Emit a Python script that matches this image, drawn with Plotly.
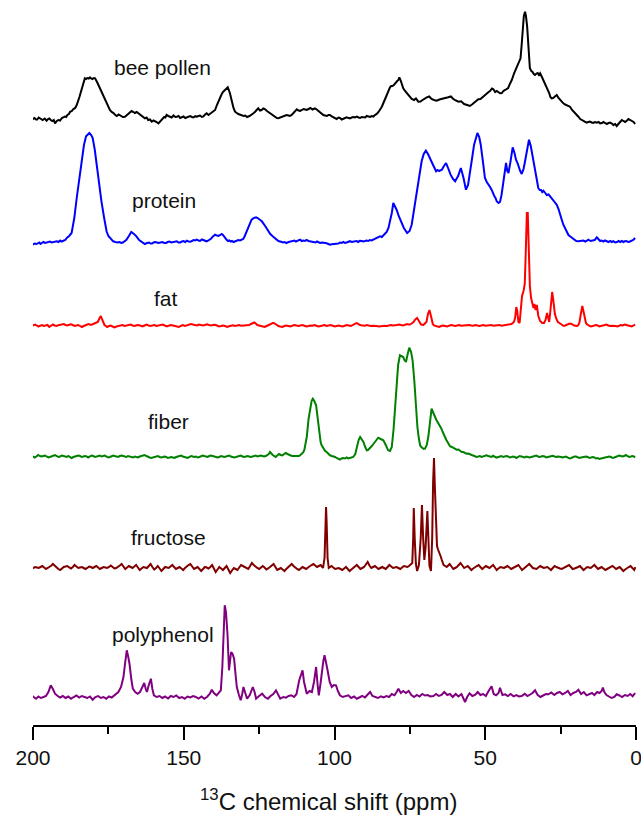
import plotly.graph_objects as go

# ---------------- data (ppm, intensity above own baseline) ----------------
bee_pollen = [(200.5,-1),(200,0.5),(199.5,1),(199,-0.5),(198.6,-0.5),(198.1,1.5),(197.7,0.7),(197.2,-0.5),(196.8,-1),(196.1,0.5),(195.5,-1.7),(195,0),(194.6,0.5),(194.1,-1),(193.6,-2),(193.1,-1),(192.7,-4.3),(192.1,-2),(191.6,-1),(191,-1.5),(190.5,0.7),(190,1.5),(189.5,2.5),(189,2),(188.6,4),(188.1,5),(187.7,7.3),(187.1,8),(186.6,10),(186,11),(185.5,14),(184.6,22),(183.8,30.7),(182.8,40.7),(182.4,40),(182,41),(181.5,40.5),(181.1,41.7),(180.7,40.5),(180.3,40),(179.8,41),(179.4,40.7),(178.6,36),(177.8,30.7),(176.9,25),(176.1,19),(175.3,14),(174.5,9),(173.9,7),(173.3,6),(172.7,4),(172.2,3),(171.6,4.5),(171,3.5),(170.2,2),(169.5,2.3),(168.9,4),(168.4,5),(167.8,7.5),(167.3,8),(166.7,7),(166.2,6),(165.6,7),(165.1,5.7),(164.5,4.5),(164,3),(163.4,2),(162.9,0.7),(162.3,1.5),(161.8,-1),(161.2,-0.5),(160.6,-2.7),(160,-1.5),(159.5,-2),(159,-3),(158.4,-4.3),(157.8,-2.5),(157.3,-1),(156.9,0.5),(156.5,2),(156.1,1.5),(155.7,4),(155.1,3),(154.5,2.5),(154,1.5),(153.4,3.5),(152.8,2),(152.3,2.3),(151.7,3),(151.2,1),(150.6,1.8),(150.1,2.5),(149.5,1),(149,1.7),(148.4,2.5),(147.9,3),(147.3,2),(146.8,1.5),(146.2,2.8),(145.7,2.3),(145.1,3),(144.6,3.5),(144,2),(143.5,2.5),(142.9,4.5),(142.4,5.7),(141.8,4),(141.3,5),(140.7,6),(140.2,7.3),(139.6,9),(139,14),(138.5,18),(138,22.3),(137.4,25),(136.9,27.3),(136.2,29),(135.4,31.7),(134.7,26),(134.1,17.3),(133.5,11),(133,7.3),(132.4,6),(131.9,5),(131,4),(130.2,3),(129.6,3.5),(129,2),(128.2,3),(127.5,4),(127,5.5),(126.4,7),(125.9,9),(125.3,10.7),(124.7,8.5),(124.2,9),(123.6,10.5),(123,9.7),(122.4,8),(121.9,7),(121.3,5),(120.8,4),(120.2,3),(119.7,2),(119.1,1),(118.6,0.7),(118,1.5),(117.5,2),(116.7,3),(115.9,4),(115.3,3.5),(114.8,3),(114.2,4),(113.7,6),(113.1,8),(112.5,9.7),(111.9,8.5),(111.4,8),(110.8,9),(110.3,10),(109.7,9.5),(109.2,9),(108.6,10),(108,11),(107.3,9.5),(106.5,10.7),(105.9,9.5),(105.3,8),(104.9,7),(104.5,6),(104.1,5),(103.7,4),(103.1,3.5),(102.5,3),(102,4),(101.5,4),(100.9,2.5),(100.4,1.5),(99.8,1),(99.3,0),(98.7,1.5),(98.2,1),(97.6,-0.5),(97.1,0.5),(96.5,1),(96,1.7),(95.4,1),(94.9,0.5),(94.3,1.5),(93.8,2),(93.2,1.5),(92.6,2.3),(92,1.5),(91.5,1),(91,2),(90.4,2),(89.8,1.5),(89.3,3),(88.7,2.5),(88.2,2),(87.6,3),(87.1,2.5),(86.6,4),(86,5),(85.4,7),(84.9,9),(84.3,12.3),(83.5,18),(82.7,24),(82.2,27),(81.6,31.7),(81.2,33),(80.8,33),(80.3,34),(79.9,35.7),(79.2,38),(78.8,39),(78.5,41.7),(78.1,39),(77.8,36),(77.2,30.7),(76.6,28),(76.1,26),(75.5,24.5),(75,22.3),(74.4,20),(73.6,19),(73,20.5),(72.2,17.3),(71.5,17.5),(70.8,19),(70.1,20.5),(69.4,21.7),(68.6,22.5),(67.8,20),(67,19),(66.1,18.3),(65.2,19.5),(64.2,20),(63.2,21),(62.3,21.7),(61.4,22.5),(60.6,20),(59.7,18.5),(58.9,17.3),(58,17.8),(57,15),(56,14),(55.1,13),(54.4,14.5),(53.7,16),(53,18),(52.3,19.7),(51.6,20),(50.9,22),(50.2,23),(49.5,25.7),(48.9,27),(48.4,28),(47.8,30.5),(47.3,29.7),(46.7,27),(46.2,28),(45.6,27),(45.1,25.7),(44.5,26),(44,28),(43.4,29),(42.9,29.7),(42.4,31),(42,34),(41.2,39),(40.4,46),(39.6,52.3),(38.9,57),(38.3,60.7),(37.9,75),(37.6,92.3),(37.2,103),(36.8,107.3),(36.5,103),(36.1,92.3),(35.6,70),(35.2,50.7),(34.7,48),(34.3,47),(33.9,45),(33.5,44),(33,45.5),(32.6,46),(32.2,44),(31.8,45.7),(31.2,42),(30.7,39),(30.1,35),(29.6,32.3),(29.2,30),(28.8,26),(28.4,22),(28,20.7),(27.5,21),(27.1,22),(26.7,23),(26.3,24),(25.7,21),(25.2,19),(24.6,17),(24.1,15.7),(23.5,14.5),(23,14),(22.4,13),(21.9,12.3),(21.2,9),(20.5,7),(19.8,4),(19.1,2.3),(18.5,0),(17.8,-1),(17.1,-2),(16.4,-3.7),(15.8,-3),(15.3,-2.5),(14.7,-3.5),(14.2,-4),(13.6,-3),(13,-3.7),(12.4,-3),(11.9,-4.5),(11.3,-4),(10.8,-3),(10.2,-4),(9.7,-5),(9.1,-4),(8.6,-3.5),(8,-4.5),(7.5,-6),(6.9,-5),(6.4,-7),(6,-5.5),(5.5,-4),(5.1,-2),(4.7,-1),(4.2,-2),(3.6,-3),(3,-1.5),(2.5,0),(1.9,-1),(1.4,-2),(0.8,-3),(0.3,-5)]

protein = [(200.5,-2.3),(199.9,-1),(199.4,-0.5),(198.8,-1),(198.3,0),(197.9,0.5),(197.5,-1),(197,0),(196.6,1),(196,0),(195.5,0.5),(194.9,1),(194.4,1.5),(193.8,0.5),(193.3,1),(192.7,1.2),(192.1,1.7),(191.5,1),(191,2.5),(190.5,1.5),(189.9,2),(189.3,3),(188.8,5),(188,7),(187.2,10),(186.3,25),(185.5,45),(184.6,66),(183.8,85),(183.1,98),(182.4,106.7),(181.8,109),(181.3,110),(180.7,108),(180.2,105),(179.5,93),(178.9,78.3),(178.1,60),(177.3,41.7),(176.4,25),(175.6,11.7),(175,7),(174.5,5),(173.9,3),(173.4,1.7),(172.7,1),(172,0.5),(171.3,1),(170.7,0),(170.2,0.5),(169.8,1.5),(169,3.3),(168.2,7),(167.4,11),(166.5,9),(165.7,6.7),(164.8,3),(163.8,0.5),(163.3,0),(162.9,-1),(162.2,0),(161.5,0.5),(161,-0.5),(160.5,-0.5),(160,0.5),(159.5,1),(158.9,0.5),(158.3,0),(157.7,0.5),(157.1,1),(156.5,0),(155.9,0),(155.3,1),(154.8,1.5),(154.1,0.5),(153.5,0.8),(152.9,1.2),(152.3,1.7),(151.7,0.5),(151.2,0.5),(150.6,1.5),(150.1,2),(149.5,1),(149,2.3),(148.4,1.5),(147.9,1.2),(147.3,2),(146.8,3),(146.2,2.5),(145.7,3.3),(145.1,2.5),(144.6,2),(144,3.5),(143.5,3),(142.9,2),(142.4,1.7),(141.8,2.5),(141.3,3.5),(140.9,4.5),(140.5,6),(140,7),(139.6,8.3),(139,7.5),(138.5,7),(137.9,8),(137.4,9),(137,8),(136.6,6),(136.2,4),(135.8,3.3),(135.3,2),(134.9,2.5),(134.4,1.5),(134,2),(133.5,1),(133,1.7),(132.4,2.5),(131.9,3),(131.3,2.5),(130.8,3.3),(130.3,4),(129.9,6),(129.1,11.7),(128.3,17),(127.5,23.3),(126.7,25),(126,25.7),(125.5,25),(125,24),(124.1,21.7),(123,17),(122,11.7),(121.3,9),(120.6,7),(119.9,5),(119.2,3.3),(118.6,2),(118,1.5),(117.5,1),(117,0.5),(116.5,1),(116,0),(115.2,1),(114.5,1.5),(113.9,2),(113.3,2.5),(112.8,1.5),(112.3,2),(111.8,3),(111.4,3.3),(110.9,2),(110.4,2.5),(109.8,2),(109.3,3),(108.6,2),(108,1.7),(107.5,1),(106.9,1),(106.3,0.5),(105.8,1.5),(105.3,1),(104.8,0),(104.1,0.5),(103.5,0.5),(103,0),(102.4,-0.5),(101.9,-1),(101.5,-1.7),(100.9,-1.2),(100.4,-1),(99.8,-0.5),(99.3,0),(98.7,-0.5),(98.2,0.5),(97.6,0),(97.1,1),(96.5,0),(96,0.5),(95.4,1),(94.9,1.8),(94.3,1),(93.8,1.2),(93.2,1.5),(92.7,2),(92.1,1),(91.6,2.3),(91,2),(90.5,1.5),(89.9,2),(89.4,2.5),(88.8,2),(88.3,3),(87.7,2.5),(87.1,3.3),(86.5,4),(86,4.5),(85.4,5.5),(84.9,6.7),(84.3,6),(83.8,7.5),(83.2,8.5),(82.7,11),(82.1,15),(81.6,21.7),(81,30),(80.5,40),(79.9,37),(79.4,33.3),(78.7,27),(78,21.7),(77,15),(75.9,10),(75.1,12),(74.4,18.3),(73.5,35),(72.7,51.7),(71.9,67),(71.1,81.7),(70.4,89),(69.7,92.3),(69,89),(68.3,85),(67.3,78),(66.3,71.7),(65.8,73),(65.3,72),(64.4,73.3),(63.7,77),(63,80),(62.2,74),(61.5,68.3),(60.7,64),(60,61.7),(59,67),(58.1,75),(57.2,65),(56.4,53.3),(55.7,58),(55.1,68.3),(54.4,84),(53.7,98.3),(53.1,106),(52.6,110),(52,106),(51.5,98.3),(50.8,82),(50.1,65),(49.5,61),(49,58),(48.4,56),(47.9,53.3),(47.5,50),(47,47),(46.6,45),(46.2,41.7),(45.6,40),(45.1,41),(44.6,48),(44.2,56.7),(43.6,70),(43.1,80),(42.7,72),(42.3,70),(41.6,82),(40.9,95.7),(40.3,90),(39.8,83.3),(39.3,80),(38.9,76),(38.4,72),(37.9,69),(37.3,74),(36.8,81.7),(36.1,93),(35.5,103.3),(34.9,97),(34.3,86.7),(33.8,78),(33.3,70),(32.8,62),(32.4,55),(31.9,53),(31.5,53),(31.1,51),(30.7,52.3),(30.1,50),(29.6,48),(29,48.5),(28.5,46.7),(28,45),(27.4,42),(26.9,41),(26.3,38.3),(25.7,34),(25.2,28),(24.6,23),(24.1,18.3),(23.5,14),(23,11),(22.4,8),(21.9,6.7),(21.2,5),(20.5,3.5),(19.8,2),(19.1,1.7),(18.4,2),(17.5,2.5),(16.8,1.5),(16.2,2.5),(15.8,3.3),(15.1,2),(14.4,2.5),(13.7,3),(13,5.7),(12.4,3),(11.9,2),(11.4,2.5),(10.8,1.5),(10.3,2.5),(9.7,1.7),(9.1,1),(8.6,2),(8,1),(7.5,1.8),(6.9,0.5),(6.3,1),(5.8,2),(5.2,1),(4.7,2),(4.1,1),(3.6,2),(3.1,1.7),(2.5,1),(2,1.5),(1.5,2),(0.9,3),(0.3,5)]

fat = [(200.5,0),(199.9,0.8),(199.3,1.5),(198.7,0.5),(198.2,-0.5),(197.6,0.3),(197,1),(196.4,0),(195.8,0.5),(195.2,1),(194.6,-1),(194,0),(193.4,1.5),(192.8,0.5),(192.2,0),(191.6,0.8),(191,1),(190.4,1.5),(189.8,2),(189.2,1),(188.6,0.5),(188,1.2),(187.4,1.8),(186.8,1),(186.2,0),(185.6,0.5),(185,1),(184.4,0),(183.8,-1),(183.2,0),(182.6,1),(182,1.5),(181.4,2),(180.9,1),(180.4,1.5),(179.9,2),(179.5,2.5),(179,3),(178.5,4),(177.9,8),(177.5,10),(177,6),(176.6,2.5),(176.3,1),(175.8,0),(175.4,-1),(174.8,0),(174.2,0.5),(173.6,-0.5),(173,-1.5),(172.3,-0.5),(171.6,0),(171,0.5),(170.3,1),(169.6,0),(169,0.5),(168.3,1),(167.6,1.5),(167,0.5),(166.3,0),(165.6,0.8),(165,1),(164.3,0.3),(163.7,-0.5),(163,0.5),(162.3,1.5),(161.7,0.5),(161,0),(160.4,0.5),(159.7,1),(159,0),(158.4,0.5),(157.7,1),(157,1.5),(156.3,0.5),(155.6,-0.5),(155,0.3),(154.3,1),(153.6,0.5),(153,0),(152.3,-0.3),(151.6,-1),(151,0),(150.3,1),(149.6,0),(149,0.5),(148.3,1),(147.6,2),(147,1.5),(146.3,1),(145.6,0.5),(145,1.5),(144.3,1),(143.6,0.5),(143,1),(142.3,1.8),(141.6,1),(141,0.5),(140.3,1),(139.6,1.2),(139,0.5),(138.3,-0.5),(137.6,0),(137,0.5),(136.3,0),(135.6,-1),(135,-0.3),(134.3,0.5),(133.6,0.8),(133,0),(132.3,0.5),(131.6,1),(131,0.3),(130.3,0.5),(129.6,1),(129,1.5),(128.3,1),(127.7,2),(127.1,2.5),(126.6,3.5),(126.1,2.5),(125.6,1),(125,0.5),(124.5,0),(123.9,-0.5),(123.2,-1),(122.5,0),(121.8,1),(121.3,2),(120.8,3),(120.3,3.2),(119.8,2.5),(119.2,1),(118.6,0),(118,-0.5),(117.3,-1),(116.6,0),(116,0.5),(115.3,0),(114.6,-0.5),(114,0.3),(113.3,1),(112.6,0.5),(112,0),(111.3,0.5),(110.6,1),(110,0.3),(109.3,-0.5),(108.6,0),(108,0.5),(107.3,0.2),(106.6,1),(106,0.3),(105.3,-0.5),(104.6,0),(104,0.5),(103.3,1),(102.6,0),(102,0.5),(101.3,1),(100.6,0.3),(100,-0.5),(99.3,0),(98.6,0.5),(98,0),(97.3,-0.5),(96.6,0.3),(96,1),(95.3,0.5),(94.6,0),(94,0.8),(93.4,1.5),(92.7,3),(92.3,2.5),(91.9,1.5),(91.2,0.8),(90.6,0.5),(90,0.3),(89.3,1),(88.6,0.5),(88,0),(87.3,0.3),(86.6,0.5),(86,0),(85.3,-0.5),(84.6,0),(84,0.5),(83.3,0.3),(82.6,0),(82,0.5),(81.3,1),(80.6,0.5),(80,0.5),(79.3,1),(78.6,1.5),(78,1),(77.3,0.5),(76.6,1.2),(76,2),(75.5,1.5),(75,1.5),(74.4,2.5),(73.8,4),(73.2,6.5),(72.6,8),(72,5),(71.3,1.5),(70.5,1),(69.5,4),(69,12),(68.5,16),(68,10),(67.4,2),(67,0.5),(66.5,0),(65.9,-0.5),(65.3,-1),(64.6,0),(64,0.5),(63.3,0),(62.6,-0.5),(62,0.3),(61.3,1),(60.6,0.5),(60,0),(59.3,0.5),(58.6,1),(58,0.3),(57.3,0.5),(56.6,1),(56,1.5),(55.3,1),(54.6,0.5),(54,0.3),(53.3,1),(52.6,0.5),(52,0),(51.3,0.5),(50.6,1),(50,0.3),(49.3,0.5),(48.6,1.2),(48,1),(47.3,0.3),(46.6,0.5),(46,1),(45.3,1),(44.6,0.3),(44,0.5),(43.3,1.2),(42.6,1),(42,1.5),(41.3,2),(40.9,3),(40.5,4),(40.1,8),(39.7,19),(39.4,15),(39,4),(38.6,3),(38.2,20),(37.8,30),(37.3,35),(36.9,42),(36.6,70),(36.4,100),(36.2,113),(35.9,113),(35.6,80),(35.2,40),(34.8,28),(34.4,24),(34,18),(33.7,22),(33.3,16),(32.9,21),(32.4,10),(31.8,5),(31.1,3),(30.5,3),(30,6),(29.5,13),(29.1,9),(28.8,4),(28.5,12),(28.1,28),(27.8,34),(27.4,25),(26.9,12),(26.4,7),(25.9,4),(25.4,3),(25,2),(24.5,1),(24,0),(23.5,0.5),(23,1),(22.5,2),(22,2.5),(21.4,2),(21,1),(20.5,0.5),(20,0.3),(19.5,0),(19.1,1),(18.8,3),(18.3,12),(17.8,20),(17.3,13),(16.9,6),(16.6,3),(16.2,1.5),(15.8,0.5),(15.3,0),(14.9,-0.5),(14.3,0),(13.8,0.5),(13.3,1),(12.7,0.5),(12.2,-0.5),(11.6,0),(11,0.5),(10.4,1),(9.8,1.5),(9.2,0.5),(8.6,0),(8,0.3),(7.4,0.5),(6.8,0),(6.2,-0.5),(5.6,0.3),(5,1),(4.4,0.5),(3.8,1.5),(3.2,1),(2.6,0.5),(2,0),(1.4,-0.5),(0.8,0.5),(0.3,1.5)]

fiber = [(200.5,1),(200,0),(199.4,-0.5),(198.9,0.5),(198.3,2),(197.7,1),(197.2,0.5),(196.6,1),(196,1.5),(195.5,0.5),(194.9,-0.5),(194.4,0),(193.8,1),(193.2,1.5),(192.7,2),(192.1,1),(191.6,0),(191,0.5),(190.5,1.5),(189.9,1),(189.4,0.5),(188.8,0),(188.3,1),(187.7,0),(187.2,-1),(186.6,0),(186.1,0.5),(185.5,1),(185,1.5),(184.4,1),(183.9,0),(183.3,0.5),(182.8,1),(182.2,0.5),(181.7,-0.5),(181.1,0.5),(180.6,1.5),(180,1),(179.5,0),(178.9,0.5),(178.4,1),(177.8,1.5),(177.3,0.5),(176.7,1),(176.2,1.5),(175.6,0.5),(175.1,-0.5),(174.5,0),(174,0.5),(173.4,1.5),(172.9,1),(172.3,0.5),(171.8,0),(171.2,1),(170.7,1.5),(170.1,1),(169.6,0.5),(169,0),(168.5,1),(167.9,0.5),(167.4,0),(166.8,-0.5),(166.3,0.5),(165.7,0),(165.2,-0.5),(164.6,0.5),(164.1,1),(163.5,1.5),(163,2),(162.4,1),(161.9,0),(161.3,-0.5),(160.8,-1),(160.2,-0.5),(159.7,0),(159.1,0.5),(158.6,1),(158,0),(157.5,-0.5),(156.9,0),(156.4,0.5),(155.8,0),(155.3,-1),(154.7,-0.5),(154.2,0),(153.6,-0.5),(153.1,-1),(152.5,0),(152,0.5),(151.4,1),(150.9,1.5),(150.3,0.5),(149.8,0),(149.2,-0.5),(148.7,-1),(148.1,0),(147.6,1),(147,0.5),(146.5,0),(145.9,0.5),(145.4,-0.5),(144.8,0),(144.3,0.5),(143.7,1.5),(143.2,1),(142.6,0.5),(142.1,0),(141.5,1),(141,1.5),(140.4,1),(139.9,0.5),(139.3,0),(138.8,-0.5),(138.2,0),(137.7,1),(137.1,0.5),(136.6,0),(136,0.5),(135.5,1),(134.9,1.5),(134.4,0.5),(133.8,0),(133.3,-0.5),(132.7,0),(132.2,0.5),(131.6,1),(131.1,1.5),(130.5,0.5),(130,0),(129.4,0.5),(128.9,1),(128.3,0.5),(127.8,0),(127.2,0.5),(126.7,1),(126.1,1.5),(125.6,0.5),(125,1),(124.5,1.5),(123.9,1),(123.4,0.5),(122.8,1),(122.3,2),(121.8,3),(121.4,5),(121,3.5),(120.5,2),(120,1),(119.5,0),(119,1.5),(118.4,3),(117.8,2),(117.3,1.5),(116.7,3),(116.2,4),(115.6,3),(115.1,2),(114.5,1.5),(114,1),(113.4,1),(112.9,1.5),(112.3,1),(111.8,1),(111.3,2),(110.9,3),(110.4,4.5),(110,7),(109.6,12),(109.2,20),(108.6,38),(108.1,50),(107.6,56),(107.2,58.3),(106.7,56),(106.1,51.7),(105.5,36),(105,20),(104.6,15),(104.3,12),(103.7,8.3),(103.1,6),(102.6,5),(102,3),(101.5,1.7),(100.9,1),(100.4,0.7),(99.8,0),(99.3,-1),(98.7,-2),(98.2,-2.7),(97.6,-1.5),(97.1,-1),(96.5,-1.5),(96,-0.5),(95.4,-1.5),(94.9,-1),(94.3,-0.5),(93.8,0),(93.1,3),(92.6,10),(92,17),(91.5,20),(91,18),(90.4,15),(89.8,10),(89.3,6.7),(88.9,7),(88.5,8),(87.7,10.7),(87.1,13),(86.6,15),(86,17),(85.5,19.3),(84.7,18),(83.8,16.7),(83,12),(82.6,9),(82.2,6.7),(81.6,6),(81,10),(80.4,28),(79.9,50),(79.4,75),(78.9,92),(78.3,101.7),(77.7,101),(77.2,100),(76.8,97),(76.3,95),(75.8,102),(75.2,109.3),(74.6,105),(74.1,96.7),(73.5,75),(73,50),(72.5,30),(72,18),(71.6,11.7),(71.2,10),(70.8,9),(70.4,8),(70,8.3),(69.4,12),(68.9,20),(68.3,35),(67.8,48.3),(67.2,44),(66.7,40),(66.2,37),(65.8,35),(65.4,33),(65,31.7),(64.5,28),(64.1,25),(63.7,22),(63.3,20),(62.9,17),(62.5,15),(62.1,12),(61.7,10.7),(61.1,10),(60.6,9),(60,8),(59.5,7.3),(58.9,7.5),(58.4,6.5),(57.8,5),(57.3,5),(56.7,4),(56.2,3.3),(55.6,3.5),(55.1,2.5),(54.5,2),(54,1.5),(53.4,1),(52.9,0),(52.3,0.5),(51.8,1),(51.2,0),(50.7,0.5),(50.1,1),(49.6,1.7),(49,1),(48.5,0.5),(47.9,0),(47.4,1.2),(46.8,0.5),(46.3,-0.7),(45.7,0),(45.2,0.5),(44.6,1),(44.1,0),(43.5,0.5),(43,1),(42.4,0.5),(41.9,-0.5),(41.3,0),(40.8,0.5),(40.2,0),(39.7,-1),(39.1,0),(38.6,1),(38,0.5),(37.5,0),(36.9,-0.5),(36.4,0.5),(35.8,0),(35.3,-0.5),(34.7,0),(34.2,0.5),(33.6,1),(33.1,1.5),(32.5,0.5),(32,0),(31.4,0.5),(30.9,1),(30.3,0.5),(29.8,-0.5),(29.2,0),(28.7,0.5),(28.1,1),(27.6,1.2),(27,0.5),(26.5,0),(25.9,0.5),(25.4,0.5),(24.8,0),(24.3,-0.5),(23.7,0),(23.2,0.5),(22.6,-0.5),(22.1,-1.5),(21.5,-1),(21,0),(20.4,0.5),(19.9,0.5),(19.3,0),(18.8,-1),(18.2,-0.5),(17.7,0),(17.1,0.5),(16.6,0.5),(16,0),(15.5,-1),(14.9,-0.5),(14.4,0),(13.8,-0.5),(13.3,-1.5),(12.7,-1),(12.2,-2),(11.6,-1.5),(11.1,-1),(10.5,-0.5),(10,0),(9.4,0.5),(8.9,0.5),(8.3,0),(7.8,-1),(7.2,-0.5),(6.7,0),(6.1,0.5),(5.6,1.5),(5,1),(4.5,0.5),(3.9,1),(3.4,2),(2.8,1),(2.3,0),(1.7,0.5),(1.2,1),(0.7,0.5),(0.3,-0.5)]

fructose = [(200.5,-1),(199.9,0),(199.3,1),(198.7,0.5),(198.1,0),(197.5,1),(196.9,2),(196.3,0.5),(195.7,-1),(195.1,0),(194.5,1),(193.9,2.5),(193.4,4),(192.8,2),(192.2,0),(191.6,-1),(191,-2),(190.4,-0.5),(189.8,1),(189.2,1.5),(188.6,2),(188,0.5),(187.4,-0.5),(186.8,1),(186.2,3),(185.6,1.5),(185,0),(184.4,0.5),(183.8,1),(183.2,0),(182.6,-1),(182,0),(181.4,1.5),(180.8,1),(180.2,0),(179.6,1),(179,2),(178.4,0.5),(177.8,-1),(177.2,0),(176.6,1),(176,0.5),(175.4,0),(174.8,1),(174.2,2.5),(173.6,1),(173,-0.5),(172.4,0),(171.8,1),(171.2,2.5),(170.6,4),(170,1.5),(169.4,-1),(168.8,0.5),(168.2,2),(167.6,1),(167,0),(166.4,1.5),(165.8,3),(165.2,0.5),(164.6,-2),(164,-0.5),(163.4,1),(162.8,0.5),(162.2,0),(161.6,2),(161,4),(160.4,1),(159.8,-1.5),(159.2,0),(158.6,2),(158,-0.5),(157.4,-3),(156.8,-1),(156.2,1),(155.6,0.5),(155,0),(154.4,1.5),(153.8,3),(153.2,1),(152.6,-1),(152,0),(151.4,1),(150.8,-0.5),(150.2,-2),(149.6,0),(149,2),(148.4,3),(147.8,4),(147.2,1.5),(146.6,-1),(146,0),(145.4,1),(144.8,-1),(144.2,-3),(143.6,-1),(143,1),(142.4,0.5),(141.8,-0.5),(141.2,1),(140.6,3),(140,-0.5),(139.4,-4),(138.8,-1.5),(138.2,1),(137.6,-0.5),(137,-2),(136.4,0),(135.8,2),(135.2,-1.5),(134.6,-5),(134,-2.5),(133.4,0),(132.8,-1),(132.2,-2),(131.6,0.5),(131,3),(130.4,2),(129.8,1),(129.2,0),(128.6,-1),(128,2),(127.4,5),(126.8,3),(126.2,1),(125.6,0),(125,-1),(124.4,0.5),(123.8,2),(123.2,0.5),(122.6,-1.5),(122,-0.5),(121.4,1),(120.8,2.5),(120.2,4),(119.6,1),(119,-2),(118.4,-1),(117.8,0),(117.2,-1.5),(116.6,-3),(116,-1),(115.4,1),(114.8,2.5),(114.2,4),(113.6,2),(113,0),(112.4,-1),(111.8,-2),(111.2,-0.5),(110.6,1),(110,0),(109.4,-1),(108.8,0.5),(108.2,2),(107.6,3),(107,4),(106.4,2.5),(105.8,1),(105.2,2),(104.6,3),(104.2,1.5),(103.8,0),(103.3,10),(103,45),(102.8,61),(102.6,45),(102.3,10),(101.9,0),(101.5,1),(101,2),(100.4,0.5),(99.8,-1),(99.2,-0.5),(98.6,0),(98,-1),(97.4,-2),(96.8,-0.5),(96.2,1),(95.6,-1),(95,-3),(94.4,-1.5),(93.8,0),(93.2,1.5),(92.6,3),(92,1),(91.4,-1),(90.8,0),(90.2,1),(89.6,3.5),(89,6),(88.4,2.5),(87.8,0),(87.2,1),(86.6,2),(86,0.5),(85.4,-1),(84.8,0),(84.2,1),(83.6,0),(83,-1),(82.4,1),(81.8,3),(81.2,1.5),(80.6,0),(80,0.5),(79.4,1),(78.8,0),(78.2,-1),(77.6,0.5),(77,2),(76.4,1.5),(75.8,1),(75.3,2),(74.8,3),(74.2,5),(73.9,30),(73.7,60),(73.4,30),(73,4),(72.6,-3),(72,3),(71.4,30),(71,63),(70.6,30),(70.2,8),(69.8,20),(69.2,57),(68.8,25),(68.5,2),(68,-3),(67.6,30),(67.3,85),(67,110),(66.7,80),(66.3,30),(66,22),(65.6,18),(65.1,15),(64.7,11),(64.4,8),(63.8,3),(63.3,2),(62.8,1),(62.3,2.5),(61.8,4),(61.2,1.5),(60.6,-1),(60,0),(59.4,1),(58.8,3),(58.2,5),(57.6,2.5),(57,0),(56.4,1),(55.8,2),(55.2,0),(54.6,-2),(54,-0.5),(53.4,1),(52.8,2),(52.2,3),(51.6,1),(51,-1),(50.4,0.5),(49.8,2),(49.2,1),(48.6,0),(48,1.5),(47.4,3),(46.8,0.5),(46.2,-2),(45.6,-0.5),(45,1),(44.4,0.5),(43.8,0),(43.2,1),(42.6,2),(42,0.5),(41.4,-1),(40.8,0),(40.2,1),(39.6,2),(39,3),(38.4,0.5),(37.8,-2),(37.2,-0.5),(36.6,1),(36,2.5),(35.4,4),(34.8,2),(34.2,0),(33.6,-0.5),(33,-1),(32.4,0.5),(31.8,2),(31.2,1),(30.6,0),(30,0.5),(29.4,1),(28.8,-0.5),(28.2,-2),(27.6,0),(27,2),(26.4,1),(25.8,0),(25.2,-0.5),(24.6,-1),(24,0),(23.4,1),(22.8,2),(22.2,3),(21.6,1),(21,-1),(20.4,-0.5),(19.8,0),(19.2,1),(18.6,2),(18,0),(17.4,-2),(16.8,-0.5),(16.2,1),(15.6,0.5),(15,0),(14.4,1.5),(13.8,3),(13.2,1),(12.6,-1),(12,0),(11.4,1),(10.8,-0.5),(10.2,-2),(9.6,-1),(9,0),(8.4,1),(7.8,2),(7.2,0.5),(6.6,-1),(6,0),(5.4,1),(4.8,-1),(4.2,-3),(3.6,-1.5),(3,0),(2.4,1),(1.8,2),(1.2,0),(0.6,-2),(0.2,1)]

polyphenol = [(200.5,1.7),(199.8,0),(199,-1.7),(198.2,0.5),(197.4,-1),(196.5,0),(195.7,1),(194.9,5),(194.1,11.7),(193.4,8),(192.7,3.3),(191.8,1),(191,-0.5),(190.1,1),(189.2,-1),(188.3,0.5),(187.4,-1.7),(186.5,0),(185.6,1.5),(184.7,-0.5),(183.8,1),(182.9,0),(182,-1),(181.1,0.5),(180.2,-2.7),(179.3,0),(178.4,1),(177.5,-1),(176.6,0),(175.7,-1.7),(174.8,0.5),(173.9,-0.5),(173,1.5),(172.3,3),(171.7,5),(170.8,10),(170,20),(169.4,35),(168.9,46.7),(168.4,40),(168,33.3),(167.4,18),(166.9,8.3),(166.1,5),(165.3,3.3),(164.5,5),(163.8,10),(163.1,14),(162.6,8),(162.2,5),(161.6,12),(160.9,18.3),(160.4,8),(159.9,1.7),(159,0),(158,1),(157.1,-1),(156.2,0.5),(155.2,-1.5),(154.3,1),(153.4,0),(152.5,1.5),(151.5,-1),(150.6,0),(149.7,-1.7),(148.8,0.5),(147.8,-0.5),(146.9,1),(146,0),(145.1,-1.5),(144.1,0.5),(143.2,-1.7),(142.3,0),(141.4,3),(140.7,7.3),(140,4),(139.1,1.7),(138.4,4),(137.7,6.7),(137.2,30),(136.8,70),(136.4,91.7),(136,85),(135.5,63.3),(135,26.7),(134.6,38),(134.3,45),(133.8,43),(133.3,38.3),(132.8,22),(132.4,10),(131.7,2),(131.1,-3.3),(130.6,3),(130.2,10),(129.6,4),(129,-1.7),(128.1,2),(127.1,10),(126.5,5),(126,-1.7),(125,1),(124,3.3),(123.1,0),(122.1,-1.7),(121.2,1),(120.3,3),(119.4,6.7),(118.7,2),(118,-1.7),(117,0),(116.1,-0.7),(115.2,1),(114.3,1.7),(113.4,0),(112.6,3),(111.7,16.7),(111.1,22),(110.6,26.7),(110.1,15),(109.2,3.3),(108.3,6),(107.5,5),(106.8,15),(106.1,30),(105.6,12),(105.2,1.7),(104.7,12),(104.2,26.7),(103.7,36),(103.3,41.7),(102.8,35),(102.3,26.7),(101.6,15),(100.9,10),(100.2,12),(99.5,11.7),(98.9,6),(98.2,1.7),(97.3,0),(96.3,1),(95.4,1.7),(94.5,-1),(93.5,0.5),(92.6,-1.7),(91.7,0),(90.8,1),(89.9,-0.5),(89,2),(88.2,5),(87.4,1),(86.5,0),(85.6,-1),(84.6,0.7),(83.7,-0.5),(82.8,1),(81.9,0),(81,3),(80.1,1.7),(79.4,5),(78.8,8.3),(78,4),(77.2,6),(76.3,4),(75.4,6),(74.5,2),(73.6,0),(72.7,2),(71.8,0.5),(70.9,3),(70,1.5),(69.1,2),(68.2,0.5),(67.2,1),(66.3,3),(65.4,1),(64.5,2),(63.6,5),(62.6,2),(61.7,3),(60.8,0),(59.8,3),(58.9,0.5),(57.9,3),(56.7,-5),(56,0),(55.2,3.7),(54.3,1),(53.4,2),(52.5,5),(51.6,2),(50.7,3),(49.8,1),(48.9,6),(47.9,10.7),(47.2,3),(46.4,1.7),(45.6,4),(45.1,9.3),(44.3,2),(43.4,2.7),(42.5,1),(41.6,3),(40.6,0.7),(39.7,2),(38.8,0.5),(37.9,1),(36.9,3.3),(36,1),(35.1,2.5),(34.3,4),(33.5,6.7),(32.6,2),(31.7,0),(30.8,1.5),(29.9,3),(29,2.7),(28.1,4.5),(27.1,2),(26.2,4),(25.3,5),(24.4,2.7),(23.5,4),(22.6,6),(21.7,2),(20.8,4),(19.9,5),(19.1,7.3),(18.2,3),(17.3,5),(16.4,1.7),(15.5,3),(14.6,4),(13.8,2),(12.9,5),(12.1,4),(11.4,6),(11,9.3),(10.5,5),(9.8,2),(9,0.7),(8.1,-1),(7.2,0),(6.4,2.7),(5.5,1.5),(4.6,0),(3.7,2),(2.8,1),(1.9,3),(1.1,0.7),(0.3,4)]

names = ["bee pollen", "protein", "fat", "fiber", "fructose", "polyphenol"]
spectra = [bee_pollen, protein, fat, fiber, fructose, polyphenol]
tick_values = [200, 150, 100, 50, 0]
tick_labels = ["200", "150", "100", "50", "0"]
x_title = "<sup>13</sup>C chemical shift (ppm)"

# ---------------- styling / layout ----------------
colors = ["#000000", "#0000FF", "#FF0000", "#008000", "#800000", "#800080"]
offsets = [606, 482, 399, 268, 157, 28]          # vertical stacking offsets
label_pos = [(156.9, 658), (156.6, 525), (155.9, 427), (154.9, 304), (155.2, 188), (156.9, 91)]
FONT = "Liberation Sans, Arial, sans-serif"

fig = go.Figure()
for name, spec, col, off in zip(names, spectra, colors, offsets):
    fig.add_trace(go.Scatter(
        x=[p[0] for p in spec],
        y=[p[1] + off for p in spec],
        mode="lines",
        line=dict(color=col, width=2),
        name=name,
        showlegend=False,
        hoverinfo="skip",
    ))

for name, (lx, ly) in zip(names, label_pos):
    fig.add_annotation(x=lx, y=ly, xref="x", yref="y", text=name, showarrow=False,
                       font=dict(family=FONT, size=21, color="#111111"),
                       xanchor="center", yanchor="middle")

fig.add_annotation(x=0.49, y=-0.1034, xref="paper", yref="paper", text=x_title,
                   showarrow=False, font=dict(family=FONT, size=24, color="#111111"),
                   xanchor="center", yanchor="middle")

fig.update_layout(
    width=641, height=822,
    margin=dict(l=33, r=5, t=0, b=97),
    paper_bgcolor="white", plot_bgcolor="white",
    font=dict(family=FONT, color="#111111"),
    xaxis=dict(
        range=[200, 0], showgrid=False, zeroline=False,
        showline=True, linecolor="black", linewidth=2,
        ticks="outside", ticklen=13, tickwidth=2, tickcolor="black",
        tickvals=tick_values, ticktext=tick_labels,
        tickfont=dict(family=FONT, size=21, color="#111111"),
        ticklabeloverflow="allow",
        minor=dict(ticks="outside", ticklen=7, tickwidth=2, tickcolor="black",
                   tickvals=[175, 125, 75, 25]),
    ),
    yaxis=dict(range=[0, 725], visible=False, showgrid=False, zeroline=False),
)

fig.write_html("out.html")
